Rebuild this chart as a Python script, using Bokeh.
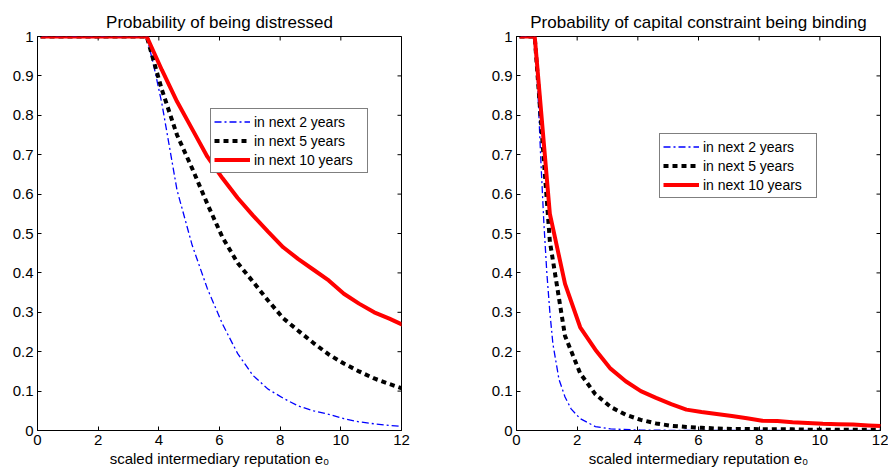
import math
from bokeh.plotting import figure
from bokeh.layouts import row
from bokeh.models import (Range1d, FixedTicker, NumeralTickFormatter,
                          Legend, LegendItem)
from bokeh.embed import file_html
from bokeh.resources import INLINE

# ---------------- data ----------------
x_grid = [0.1, 0.6, 1.1, 1.6, 2.1, 2.6, 3.1, 3.6, 4.1, 4.6, 5.1, 5.6, 6.1,
          6.6, 7.1, 7.6, 8.1, 8.6, 9.1, 9.6, 10.1, 10.6, 11.1, 11.6, 12.1]

# Left panel: probability of being distressed
left_10y = [1, 1, 1, 1, 1, 1, 1, 1, 0.915, 0.835, 0.765, 0.695, 0.64, 0.59,
            0.546, 0.505, 0.465, 0.435, 0.408, 0.381, 0.347, 0.322, 0.300,
            0.284, 0.266]
left_5y = [1, 1, 1, 1, 1, 1, 1, 1, 0.865, 0.75, 0.665, 0.575, 0.49, 0.425,
           0.378, 0.33, 0.285, 0.253, 0.222, 0.193, 0.17, 0.15, 0.132,
           0.118, 0.105]
left_2y_x = [0.1, 0.6, 1.1, 1.6, 2.1, 2.6, 3.1, 3.6, 3.85, 4.1, 4.35, 4.6,
             5.1, 5.6, 6.1, 6.6, 7.1, 7.6, 8.1, 8.6, 9.1, 9.6, 10.1, 10.6,
             11.1, 11.6, 12.1]
left_2y = [1, 1, 1, 1, 1, 1, 1, 1, 0.92, 0.83, 0.72, 0.61, 0.47, 0.36, 0.27,
           0.195, 0.14, 0.105, 0.082, 0.062, 0.05, 0.041, 0.03, 0.022, 0.017,
           0.013, 0.01]

# Right panel: probability of capital constraint being binding
right_10y = [1, 1, 0.55, 0.372, 0.262, 0.205, 0.157, 0.125, 0.1, 0.083,
             0.067, 0.053, 0.047, 0.042, 0.037, 0.031, 0.025, 0.024, 0.021,
             0.019, 0.017, 0.016, 0.015, 0.013, 0.011]
right_5y = [1, 1, 0.48, 0.24, 0.145, 0.092, 0.06, 0.04, 0.027, 0.018, 0.012,
            0.009, 0.007, 0.005, 0.004, 0.004, 0.003, 0.003, 0.003, 0.002,
            0.002, 0.002, 0.002, 0.002, 0.002]
right_2y_x = [0.1, 0.6, 0.7, 0.8, 0.9, 1.0, 1.1, 1.2, 1.4, 1.6, 1.8, 2.1,
              2.6, 3.1, 4.1, 6.1, 8.1, 10.1, 12.1]
right_2y = [1, 1, 0.87, 0.69, 0.53, 0.40, 0.30, 0.22, 0.13, 0.085, 0.055,
            0.03, 0.01, 0.004, 0.001, 0.0, 0.0, 0.0, 0.0]

x_ticks = [0, 2, 4, 6, 8, 10, 12]
y_ticks = [0, 0.1, 0.2, 0.3, 0.4, 0.5, 0.6, 0.7, 0.8, 0.9, 1]
series_labels = ["in next 2 years", "in next 5 years", "in next 10 years"]
titles = ["Probability of being distressed",
          "Probability of capital constraint being binding"]
x_label = "scaled intermediary reputation e\u2080"

FONT = "Liberation Sans"
X_MIN, X_MAX, Y_MIN, Y_MAX = 0, 12, 0, 1


def style_axis(ax):
    ax.major_tick_in = 4
    ax.major_tick_out = 0
    ax.minor_tick_line_color = None
    ax.axis_line_color = "black"
    ax.major_tick_line_color = "black"
    ax.major_label_text_font = FONT
    ax.major_label_text_color = "black"
    ax.major_label_text_font_size = "15px"
    ax.major_label_standoff = 4


def make_panel(title, x2, y2, y5, y10, w, left_border, right_border, leg_loc):
    p = figure(width=w, height=474, output_backend="svg", toolbar_location=None,
               x_range=Range1d(X_MIN, X_MAX), y_range=Range1d(Y_MIN, Y_MAX),
               min_border_left=left_border, min_border_right=right_border,
               min_border_top=36, min_border_bottom=44)
    p.xgrid.visible = False
    p.ygrid.visible = False
    p.outline_line_color = "black"
    p.outline_line_width = 1
    p.outline_line_alpha = 1
    p.background_fill_color = "white"
    p.border_fill_color = "white"

    p.title.text = title
    p.title.align = "center"
    p.title.text_font = FONT
    p.title.text_font_size = "17px"
    p.title.text_font_style = "normal"
    p.title.text_color = "black"

    p.xaxis.ticker = FixedTicker(ticks=x_ticks)
    p.yaxis.ticker = FixedTicker(ticks=y_ticks)
    p.yaxis.formatter = NumeralTickFormatter(format="0.[0]")
    style_axis(p.xaxis[0])
    style_axis(p.yaxis[0])
    p.xaxis.axis_label = x_label
    p.xaxis.axis_label_text_font = FONT
    p.xaxis.axis_label_text_font_size = "15px"
    p.xaxis.axis_label_text_font_style = "normal"
    p.xaxis.axis_label_text_color = "black"
    p.xaxis.axis_label_standoff = 2

    # inward tick marks on the top and right edges of the box
    p.scatter(x_ticks, [Y_MAX] * len(x_ticks), marker="dash", size=8,
              angle=math.pi / 2, line_color="black", line_width=1)
    p.scatter([X_MAX] * len(y_ticks), y_ticks, marker="dash", size=8,
              line_color="black", line_width=1)

    r2 = p.line(x2, y2, line_color="#0000ff", line_width=1.3,
                line_dash="7 3 2 3")
    r5 = p.line(x_grid, y5, line_color="black", line_width=4,
                line_dash="5 4")
    r10 = p.line(x_grid, y10, line_color="#ff0000", line_width=4)

    legend = Legend(items=[LegendItem(label=series_labels[0], renderers=[r2]),
                           LegendItem(label=series_labels[1], renderers=[r5]),
                           LegendItem(label=series_labels[2], renderers=[r10])],
                    location=leg_loc)
    legend.label_text_font = FONT
    legend.label_text_font_size = "14px"
    legend.label_text_color = "black"
    legend.glyph_width = 36
    legend.glyph_height = 19
    legend.label_height = 19
    legend.label_width = 110
    legend.label_standoff = 4
    legend.padding = 3
    legend.spacing = 0
    legend.margin = 0
    legend.border_line_color = "black"
    legend.border_line_width = 1
    legend.background_fill_color = "white"
    legend.background_fill_alpha = 1
    p.add_layout(legend)
    return p


p1 = make_panel(titles[0], left_2y_x, left_2y, left_5y, left_10y,
                450, 37, 49, (173, 257))
p2 = make_panel(titles[1], right_2y_x, right_2y, right_5y, right_10y,
                438, 66, 8, (143, 232))

layout = row(p1, p2)
open("out.html", "w").write(file_html(layout, INLINE))
